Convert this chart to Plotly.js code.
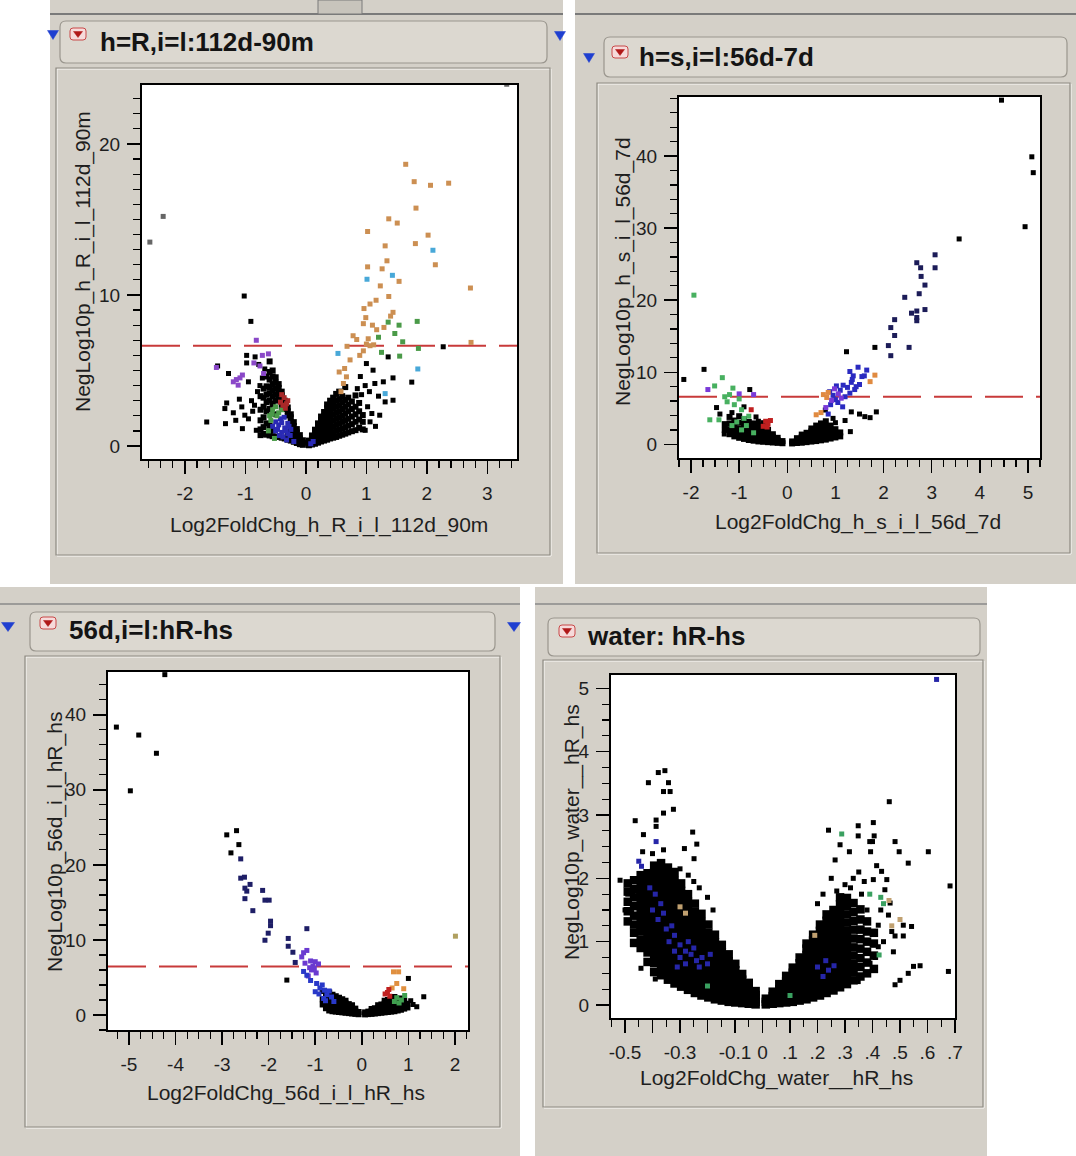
<!DOCTYPE html>
<html><head><meta charset="utf-8">
<script src="https://cdn.plot.ly/plotly-3.0.1.min.js"></script>
<style>html,body{margin:0;padding:0;background:#fff;}#chart{width:1076px;height:1156px;}</style>
</head><body><div id="chart"></div>
<script>
// ================= DATA =================
// ---- Panel 1 : h=R,i=l:112d-90m
const p1Title = 'h=R,i=l:112d-90m';
const p1XTitle = 'Log2FoldChg_h_R_i_l_112d_90m';
const p1YTitle = 'NegLog10p_h_R_i_l_112d_90m';
const p1XTickVals = [-2,-1,0,1,2,3];
const p1XTickText = ['-2','-1','0','1','2','3'];
const p1YTickVals = [0,10,20];
const p1YTickText = ['0','10','20'];
const p1Threshold = 6.64;
const p1Cloud = [
 [-0.05,[0.08,0.22,0.38]],[-0.1,[0.12,0.3,0.5,0.72]],[-0.15,[0.2,0.42,0.66,0.9,1.12]],
 [-0.2,[0.28,0.52,0.8,1.06,1.32,1.58]],[-0.25,[0.36,0.62,0.95,1.28,1.6,1.9,2.1]],
 [-0.3,[0.42,0.7,2.02,2.3,2.55]],[-0.35,[0.5,2.45,2.75,3.0]],[-0.4,[0.55,2.6,3.05,3.35,3.6]],
 [-0.45,[0.6,3.1,3.5,3.85,4.1]],[-0.5,[0.62,2.1,3.0,3.4,3.8,4.2,4.55]],
 [-0.55,[0.65,1.05,2.8,3.3,3.7,4.1,4.6,5.0]],[-0.6,[0.7,1.35,2.45,3.0,3.5,3.9,4.4,4.9,5.6]],
 [-0.65,[0.75,1.5,2.3,2.9,3.4,3.95,4.6]],[-0.7,[0.8,1.25,1.9,2.6,3.2,3.8]],[-0.75,[0.72,1.1,1.7,2.4,3.3]],
 [0.05,[0.05,0.2,0.36]],[0.1,[0.1,0.28,0.5,0.7]],[0.15,[0.15,0.36,0.6,0.85,1.08]],
 [0.2,[0.22,0.45,0.72,1.0,1.25,1.5]],[0.25,[0.3,0.55,0.85,1.15,1.45,1.72,1.95]],
 [0.3,[0.36,0.65,0.98,1.3,1.62,1.95,2.25]],[0.35,[0.42,0.75,1.1,1.45,1.8,2.15,2.5,2.75]],
 [0.4,[0.5,0.85,1.2,1.58,1.95,2.3,2.65,3.0]],[0.45,[0.55,0.92,1.3,1.7,2.1,2.5,2.85,3.2]],
 [0.5,[0.6,1.0,1.4,1.8,2.2,2.6,3.0,3.45]],[0.55,[0.68,1.08,1.5,1.9,2.3,2.7,3.1,3.6]],
 [0.6,[0.75,1.15,1.6,2.0,2.45,2.9,3.3]],[0.65,[0.82,1.25,1.7,2.15,2.6,3.05,3.9]],
 [0.7,[0.9,1.35,1.8,2.3,2.75,3.2]],[0.76,[0.98,1.45,1.95,2.45,2.95]],
 [0.82,[1.05,1.6,2.1,2.6,3.35]],[0.88,[1.2,1.75,2.3,2.85]],[0.94,[1.1,1.6,2.05]]
];
const p1Black = [[-1.02,9.93],[-0.91,8.25],[-0.82,1.04],[-0.88,2.3],[-0.95,4.25],[-1.01,2.04],[-1.05,1.15],[-1.06,2.59],[-1.16,1.7],[-1.31,2.85],[-1.34,2.48],[-1.33,1.48],[-1.64,1.59],[-1.28,4.8],[-1.46,5.3],[-0.98,6.0],[-0.98,5.5],[-0.84,5.9],[-0.78,5.4],[-0.9,3.0],[-0.85,2.7],[-0.95,1.8],[-0.8,3.6],[-1.2,2.2],[-1.1,3.1],[-0.72,4.5],[-0.68,5.1],[-0.76,4.0],
 [0.98,1.04],[1.09,2.15],[1.22,2.04],[1.31,2.92],[1.44,3.03],[1.14,4.14],[1.28,4.25],[1.44,4.51],[1.75,4.23],[1.11,5.02],[1.0,5.46],[1.36,5.9],[2.27,6.57],[1.06,1.6],[1.15,1.3],[1.02,2.6],[0.92,3.4],[1.05,3.6],[0.98,4.0],[1.2,3.3],[0.85,3.8],[0.9,4.6]];
const p1Gray = [[-2.58,13.5],[-2.36,15.2],[3.32,23.95]];
const p1Orange = [[1.65,18.65],[1.79,17.5],[2.06,17.26],[2.36,17.4],[1.82,15.75],[1.37,15.04],[1.51,14.76],[1.02,14.2],[2.02,13.96],[1.81,13.4],[1.31,13.25],[1.34,12.26],[2.14,12.0],[1.02,11.86],[1.26,11.73],[1.54,10.9],[1.23,10.6],[2.72,10.46],[1.37,9.9],[1.16,9.65],[1.06,9.4],[0.96,9.1],[1.44,8.85],[0.99,8.5],[1.29,7.85],[1.17,7.7],[0.95,8.1],[0.84,7.05],[1.03,7.1],[2.73,6.86],[1.06,6.64],[0.68,6.6],[0.73,5.7],[0.64,5.13],[0.67,4.58],[0.62,4.14],[0.89,6.0],[1.12,6.7],[1.0,6.75],[0.78,7.3],[1.4,8.6],[1.1,8.0],[0.95,6.3],[0.58,3.6],[0.55,4.9]];
const p1Cyan = [[2.10,12.96],[1.43,11.3],[1.01,11.04],[0.53,6.13],[1.31,3.47],[1.85,5.1]];
const p1Green = [[1.84,8.25],[1.36,8.2],[1.54,8.0],[1.47,7.45],[1.55,5.95],[1.86,6.46],[1.2,7.2],[1.25,6.2],[1.6,6.9],
 [-0.6,2.0],[-0.55,2.4],[-0.5,2.6],[-0.58,1.7],[-0.45,2.2],[-0.62,1.0],[-0.52,0.5],[-0.4,2.4],[-0.48,2.0],[-0.56,2.1]];
const p1Purple = [[-0.82,7.0],[-1.48,5.2],[-1.09,4.51],[-1.2,4.25],[-1.12,4.03],[-1.15,4.4],[-0.86,5.5],[-0.76,5.3],[-0.72,6.0],[-0.62,6.1],[-0.7,4.8],[-1.05,4.7]];
const p1Blue = [[-0.5,1.0],[-0.45,1.4],[-0.4,0.9],[-0.35,1.2],[-0.3,0.8],[-0.42,1.8],[-0.5,1.6],[-0.36,1.9],[-0.3,1.5],[-0.25,1.1],[-0.55,1.3],[-0.38,0.6],[-0.44,0.7],[-0.32,0.4],[-0.2,0.3],[-0.26,0.7],[-0.47,1.1],[-0.4,1.55],[-0.33,1.0],[-0.28,1.3],[0.08,0.15],[0.12,0.3]];
const p1Red = [[-0.42,2.9],[-0.36,3.2],[-0.32,2.8],[-0.4,3.4],[-0.3,3.0],[-0.34,2.5],[-0.38,2.7]];

// ---- Panel 2 : h=s,i=l:56d-7d
const p2Title = 'h=s,i=l:56d-7d';
const p2XTitle = 'Log2FoldChg_h_s_i_l_56d_7d';
const p2YTitle = 'NegLog10p_h_s_i_l_56d_7d';
const p2XTickVals = [-2,-1,0,1,2,3,4,5];
const p2XTickText = ['-2','-1','0','1','2','3','4','5'];
const p2YTickVals = [0,10,20,30,40];
const p2YTickText = ['0','10','20','30','40'];
const p2Threshold = 6.6;
const p2Cloud = [
 [-0.1,[0.15,0.45]],[-0.2,[0.2,0.55,0.9]],[-0.3,[0.25,0.65,1.05,1.4]],[-0.4,[0.3,0.75,1.2,1.65,2.0]],
 [-0.5,[0.35,0.8,1.3,1.8,2.3]],[-0.6,[0.4,0.9,1.45,2.0,2.6]],[-0.7,[0.5,1.0,1.6,2.2,2.9]],
 [-0.8,[0.6,1.15,1.75,2.4,3.1]],[-0.9,[0.75,1.3,1.95,2.7,3.5]],[-1.0,[0.9,1.5,2.2,3.0,3.9]],
 [-1.1,[1.1,1.8,2.5,3.3]],[-1.2,[1.4,2.1,2.9,3.8]],[-1.3,[2.0,2.8]],
 [0.1,[0.12,0.4]],[0.2,[0.18,0.5,0.85]],[0.3,[0.22,0.6,1.0,1.35]],[0.4,[0.3,0.7,1.15,1.6]],
 [0.5,[0.38,0.8,1.3,1.8,2.2]],[0.6,[0.45,0.9,1.45,2.0,2.6]],[0.7,[0.55,1.05,1.6,2.2,2.9]],
 [0.8,[0.65,1.2,1.8,2.45,3.2]],[0.9,[0.8,1.35,1.95,2.6]],[1.0,[0.95,1.5,2.1]],[1.1,[1.1,1.65]]
];
const p2Black = [[4.45,47.76],[5.08,39.9],[5.11,37.7],[4.94,30.2],[3.57,28.5],[-2.15,9.0],[-1.73,10.4],[-1.47,5.1],[-1.31,1.43],[-0.78,7.6],[1.31,1.76],[1.33,4.5],[1.5,4.2],[1.61,3.84],[1.72,3.7],[1.85,4.5],[0.79,4.76],[-0.9,5.2],[-0.65,3.8],[-0.5,3.0],[1.2,3.3],[1.0,3.0],[0.95,3.6],[-1.4,4.2],[-0.6,3.2],[-1.15,4.4],[1.23,12.85],[1.82,13.45]];
const p2Navy = [[3.07,26.3],[3.07,24.5],[2.69,25.2],[2.77,24.5],[2.78,23.3],[2.86,22.1],[2.74,20.9],[2.44,20.4],[2.86,18.7],[2.69,18.5],[2.58,18.2],[2.69,17.6],[2.69,17.15],[2.23,17.3],[2.15,16.2],[2.23,15.1],[2.1,13.7],[2.53,13.45],[2.15,12.3]];
const p2Blue = [[1.30,10.1],[1.47,10.7],[1.65,10.3],[1.37,9.5],[1.55,9.4],[1.16,8.2],[1.33,8.6],[1.43,8.0],[1.02,8.1],[0.88,7.3],[0.95,6.8],[1.1,7.5],[1.25,7.9],[1.5,8.3],[1.2,6.6],[1.05,5.8],[0.9,5.5],[1.0,6.2],[1.15,5.2],[0.85,4.2],[1.3,7.1],[1.4,7.6],[1.35,9.0],[1.6,9.5]];
const p2Purple = [[0.98,7.7],[1.06,7.0],[0.92,6.1],[1.12,6.4],[-1.65,7.6],[-1.0,7.0],[-0.7,6.9],[0.8,5.1]];
const p2Orange = [[1.82,9.6],[1.72,8.7],[0.85,7.2],[0.75,6.9],[0.7,4.4],[0.6,4.1],[0.82,6.5]];
const p2Green = [[-1.94,20.7],[-1.51,8.1],[-1.35,9.25],[-1.13,7.8],[-1.42,3.4],[-1.61,3.4],[-1.2,6.9],[-1.3,6.6],[-1.0,6.3],[-1.1,5.5],[-0.95,4.8],[-1.05,3.1],[-0.85,2.6],[-0.95,2.0],[-0.7,1.6],[-1.25,5.9],[-0.9,3.6],[-1.15,2.6],[-0.8,3.9]];
const p2Red = [[-0.45,3.2],[-0.4,2.8],[-0.35,3.3],[-0.5,2.5],[-0.75,4.8],[-0.42,2.4]];

// ---- Panel 3 : 56d,i=l:hR-hs
const p3Title = '56d,i=l:hR-hs';
const p3XTitle = 'Log2FoldChg_56d_i_l_hR_hs';
const p3YTitle = 'NegLog10p_56d_i_l_hR_hs';
const p3XTickVals = [-5,-4,-3,-2,-1,0,1,2];
const p3XTickText = ['-5','-4','-3','-2','-1','0','1','2'];
const p3YTickVals = [0,10,20,30,40];
const p3YTickText = ['0','10','20','30','40'];
const p3Threshold = 6.45;
const p3Cloud = [
 [-0.07,[0.1,0.4]],[-0.14,[0.15,0.5,0.85]],[-0.21,[0.2,0.6,1.0,1.3]],[-0.28,[0.25,0.65,1.05,1.45]],
 [-0.35,[0.3,0.7,1.1,1.55,1.9]],[-0.42,[0.35,0.75,1.2,1.65,2.1]],[-0.49,[0.4,0.8,1.3,1.8,2.3]],
 [-0.56,[0.45,0.9,1.4,1.9,2.5]],[-0.63,[0.5,1.0,1.5,2.05,2.7]],[-0.7,[0.6,1.1,1.7,2.3,3.0]],
 [-0.77,[0.9,1.5,2.2,2.9]],[-0.84,[1.4,2.1,3.2]],
 [0.07,[0.08,0.35]],[0.14,[0.12,0.45]],[0.21,[0.15,0.5,0.8]],[0.28,[0.2,0.55,0.9]],
 [0.35,[0.25,0.6,0.95,1.3]],[0.42,[0.3,0.65,1.05,1.4]],[0.49,[0.35,0.7,1.1,1.5,1.9]],
 [0.56,[0.4,0.8,1.2,1.6,2.0]],[0.63,[0.45,0.85,1.25,1.7,2.2]],[0.7,[0.5,0.95,1.4,1.85,2.4]],
 [0.77,[0.6,1.05,1.5,2.0]],[0.84,[0.7,1.2,1.7,2.2]],[0.91,[0.85,1.35,1.9]],[0.98,[1.0,1.5]]
];
const p3Black = [[-5.27,38.36],[-4.79,37.3],[-4.41,34.87],[-4.97,29.87],[-4.23,45.35],[-2.9,24.0],[-2.69,24.56],[-2.64,22.7],[-2.81,21.6],[-1.61,4.65],[1.33,2.43],[1.18,1.1],[1.0,4.87],[1.05,1.9],[1.1,1.4]];
const p3Navy = [[-2.60,20.8],[-2.60,18.23],[-2.52,18.36],[-2.51,16.9],[-2.47,16.5],[-2.40,17.4],[-2.51,15.5],[-2.34,13.9],[-2.13,16.6],[-2.08,15.3],[-1.99,15.3],[-1.96,12.5],[-1.96,11.9],[-2.01,10.9],[-2.08,9.96],[-1.58,10.2],[-1.58,9.16],[-1.48,8.36],[-1.43,7.0],[-1.18,11.5]];
const p3Purple = [[-1.29,7.74],[-1.25,8.3],[-1.18,8.6],[-1.10,7.2],[-1.08,6.0],[-1.0,7.1],[-1.05,6.5],[-1.12,6.3],[-0.98,5.6],[-1.15,5.2],[-1.22,6.9],[-0.93,6.8],[-1.02,6.2]];
const p3Blue = [[-1.18,5.3],[-0.97,4.2],[-1.0,3.1],[-0.9,3.6],[-0.85,4.0],[-0.8,3.3],[-0.92,2.8],[-0.75,2.7],[-0.7,3.2],[-0.82,2.2],[-0.65,2.4],[-0.6,1.8],[-0.78,1.9],[-1.1,4.6],[-1.25,5.8]];
const p3Orange = [[0.68,5.75],[0.79,5.75],[0.9,3.5],[0.75,4.2],[0.65,3.6]];
const p3Red = [[0.55,3.0],[0.6,2.5],[0.5,2.8],[0.58,3.4]];
const p3Green = [[0.75,2.3],[0.85,2.0],[0.8,1.6],[0.7,1.8],[0.92,2.6]];
const p3Tan = [[2.01,10.5]];

// ---- Panel 4 : water: hR-hs
const p4Title = 'water: hR-hs';
const p4XTitle = 'Log2FoldChg_water__hR_hs';
const p4YTitle = 'NegLog10p_water__hR_hs';
const p4XTickVals = [-0.5,-0.4,-0.3,-0.2,-0.1,0,0.1,0.2,0.3,0.4,0.5,0.6,0.7];
const p4XTickText = ['-0.5','','-0.3','','-0.1','0','.1','.2','.3','.4','.5','.6','.7'];
const p4YTickVals = [0,1,2,3,4,5];
const p4YTickText = ['0','1','2','3','4','5'];
const p4Cloud = [
 [-0.49,[1.32,1.48,1.63,1.79,1.92]],
 [-0.467,[0.98,1.14,1.27,1.41,1.56,1.7,1.83,1.97]],
 [-0.443,[0.9,1.03,1.16,1.26,1.38,1.49,1.6,1.72,1.81,1.93,2.05]],
 [-0.418,[0.68,0.83,0.94,1.06,1.17,1.27,1.39,1.5,1.62,1.73,1.84,1.96,2.08]],
 [-0.394,[0.52,0.66,0.79,0.9,1.01,1.12,1.22,1.34,1.45,1.55,1.66,1.77,1.88,1.99,2.1,2.2]],
 [-0.369,[0.47,0.6,0.71,0.83,0.93,1.04,1.14,1.25,1.35,1.46,1.57,1.67,1.78,1.9,2.01,2.13,2.24]],
 [-0.344,[0.4,0.52,0.63,0.74,0.84,0.95,1.05,1.16,1.27,1.37,1.48,1.59,1.7,1.82,1.94,2.06,2.17]],
 [-0.32,[0.34,0.45,0.56,0.66,0.77,0.87,0.98,1.08,1.19,1.3,1.4,1.51,1.62,1.73,1.85,1.97,2.1]],
 [-0.296,[0.29,0.39,0.5,0.61,0.71,0.82,0.92,1.03,1.13,1.24,1.35,1.45,1.56,1.68,1.8,1.92]],
 [-0.271,[0.24,0.34,0.45,0.55,0.66,0.76,0.87,0.97,1.08,1.18,1.29,1.4,1.51,1.63,1.75]],
 [-0.246,[0.19,0.29,0.4,0.5,0.61,0.71,0.81,0.92,1.02,1.13,1.24,1.35,1.47,1.6]],
 [-0.222,[0.15,0.25,0.35,0.45,0.56,0.66,0.76,0.87,0.97,1.08,1.19,1.31,1.44]],
 [-0.197,[0.12,0.21,0.31,0.41,0.51,0.61,0.71,0.82,0.92,1.03,1.14,1.27]],
 [-0.173,[0.09,0.18,0.28,0.37,0.47,0.57,0.67,0.77,0.88,0.99,1.11]],
 [-0.148,[0.07,0.16,0.25,0.34,0.44,0.53,0.63,0.73,0.84,0.95]],
 [-0.123,[0.05,0.13,0.22,0.31,0.4,0.49,0.59,0.69,0.8]],
 [-0.099,[0.04,0.11,0.19,0.28,0.37,0.46,0.55,0.65]],
 [-0.074,[0.03,0.09,0.16,0.24,0.32,0.4,0.49]],
 [-0.05,[0.02,0.07,0.13,0.2,0.27,0.35]],
 [-0.025,[0.01,0.05,0.1,0.16,0.22]],
 [0.012,[0.01,0.05,0.1]],
 [0.037,[0.02,0.08,0.14,0.21]],
 [0.061,[0.03,0.1,0.17,0.25,0.33]],
 [0.086,[0.04,0.12,0.2,0.29,0.38,0.46]],
 [0.11,[0.05,0.14,0.23,0.32,0.42,0.51,0.59]],
 [0.135,[0.07,0.16,0.26,0.36,0.46,0.56,0.66,0.75]],
 [0.16,[0.09,0.19,0.29,0.39,0.49,0.59,0.69,0.79,0.89,0.97]],
 [0.184,[0.12,0.22,0.32,0.42,0.52,0.62,0.72,0.82,0.92,1.02,1.11]],
 [0.209,[0.15,0.25,0.35,0.45,0.55,0.65,0.75,0.85,0.96,1.06,1.17,1.27]],
 [0.233,[0.19,0.29,0.39,0.49,0.59,0.7,0.8,0.9,1.0,1.11,1.22,1.33,1.43]],
 [0.258,[0.23,0.33,0.44,0.54,0.64,0.74,0.85,0.95,1.05,1.16,1.27,1.38,1.5]],
 [0.282,[0.28,0.39,0.49,0.6,0.7,0.81,0.91,1.02,1.13,1.24,1.35,1.47,1.59,1.7]],
 [0.307,[0.33,0.45,0.57,0.69,0.81,0.93,1.05,1.17,1.3,1.43,1.56,1.69]],
 [0.331,[0.39,0.52,0.65,0.78,0.91,1.05,1.19,1.33,1.47,1.61]],
 [0.356,[0.45,0.6,0.74,0.89,1.04,1.19,1.35,1.51]],
 [0.38,[0.5,0.67,0.84,1.0,1.16,1.32]],
 [0.405,[0.57,0.78,0.97,1.14]]
];
const p4Black = [[-0.518,1.97],[-0.355,3.70],[-0.379,3.67],[-0.415,3.51],[-0.342,3.51],[-0.36,3.37],[-0.336,3.37],[-0.324,3.09],[-0.36,3.03],[-0.387,2.92],[-0.387,2.82],[-0.463,2.91],[-0.254,2.73],[-0.239,2.54],[-0.284,2.47],[-0.249,2.31],[-0.4,2.39],[-0.433,2.69],[-0.436,2.42],[-0.473,1.76],[-0.476,1.46],[-0.442,0.58],[-0.39,0.41],[-0.424,1.04],
 [-0.3,2.15],[-0.27,2.05],[-0.25,1.95],[-0.23,1.85],[-0.2,1.7],[-0.18,1.5],[-0.5,1.5],[-0.49,1.75],[-0.36,2.45],
 [0.682,1.88],[0.676,0.53],[0.461,3.21],[0.603,2.42],[0.53,2.24],[0.482,2.58],[0.497,2.42],[0.542,1.24],[0.549,0.61],[0.573,0.62],[0.53,0.5],[0.5,0.39],[0.482,0.32],[0.512,1.09],[0.482,1.09],[0.403,2.88],[0.406,2.67],[0.39,2.58],[0.4,2.58],[0.393,2.42],[0.348,2.83],[0.348,2.67],[0.24,2.76],[0.316,2.42],[0.282,2.53],[0.264,2.29],[0.433,2.11],[0.415,2.2],[0.403,1.98],[0.452,1.98],[0.445,1.82],[0.464,1.61],[0.458,1.42],[0.421,1.26],[0.47,1.16],[0.512,1.26],[0.476,0.84],[0.421,0.92],[0.391,0.66],[0.348,0.37],
 [0.37,1.95],[0.35,2.1],[0.33,2.0],[0.3,1.9],[0.32,1.85],[0.2,1.6],[0.22,1.75],[0.25,2.0],[0.27,1.8],[0.43,1.5],[0.44,1.0],[0.41,0.75],[0.38,1.5],[0.36,1.75]];
const p4Blue = [[-0.34,1.0],[-0.32,1.1],[-0.3,0.95],[-0.28,0.85],[-0.26,0.8],[-0.24,0.7],[-0.22,0.75],[-0.3,0.75],[-0.32,0.85],[-0.27,1.0],[-0.25,0.9],[-0.2,0.65],[-0.23,0.6],[-0.35,1.2],[-0.33,1.25],[-0.38,1.35],[-0.4,1.5],[-0.37,1.6],[-0.39,1.75],[-0.41,1.85],[-0.36,1.45],[-0.31,0.6],[-0.28,0.65],[-0.19,0.8],[-0.45,2.27],[-0.44,2.19],[-0.387,2.58],[0.2,0.6],[0.22,0.45],[0.24,0.55],[0.26,0.62],[0.23,0.7],[0.633,5.14]];
const p4Green = [[0.288,2.7],[0.424,0.79],[0.39,1.75],[0.43,1.7],[0.44,1.6],[-0.2,0.3],[0.1,0.15]];
const p4Tan = [[0.46,1.65],[0.5,1.35],[0.47,1.25],[-0.3,1.55],[-0.28,1.45],[0.19,1.1]];

// ================= LAYOUT HELPERS =================
const W = 1076, H = 1156;
const FONT = '"Liberation Sans", Arial, Helvetica, sans-serif';
const X = v => v / W;
const Y = v => 1 - v / H;
const fromPairs = l => ({x: l.map(p => p[0]), y: l.map(p => p[1])});
const fromCols = c => { const x = [], y = []; c.forEach(col => col[1].forEach(v => { x.push(col[0]); y.push(v); })); return {x, y}; };

const panels = [
 {n:'', box:[142,85,517,459], xr:[-2.71,3.49], yr:[-0.86,23.9], xm:0.2, ym:1, xtv:p1XTickVals, xtt:p1XTickText, ytv:p1YTickVals, ytt:p1YTickText, thr:p1Threshold,
  title:p1Title, tpos:[98,42], xt:p1XTitle, xtpos:[329,525], yt:p1YTitle, ytpos:[83,262]},
 {n:'2', box:[679,97,1040,458], xr:[-2.25,5.25], yr:[-1.9,48.2], xm:0.25, ym:2, xtv:p2XTickVals, xtt:p2XTickText, ytv:p2YTickVals, ytt:p2YTickText, thr:p2Threshold,
  title:p2Title, tpos:[637,57], xt:p2XTitle, xtpos:[858,522], yt:p2YTitle, ytpos:[623,272]},
 {n:'3', box:[108,672,468,1030], xr:[-5.45,2.28], yr:[-2.0,45.7], xm:0.25, ym:2, xtv:p3XTickVals, xtt:p3XTickText, ytv:p3YTickVals, ytt:p3YTickText, thr:p3Threshold,
  title:p3Title, tpos:[67,630], xt:p3XTitle, xtpos:[286,1093], yt:p3YTitle, ytpos:[55,842]},
 {n:'4', box:[611,675,955,1018], xr:[-0.551,0.70], yr:[-0.205,5.21], xm:0.05, ym:0.25, xtv:p4XTickVals, xtt:p4XTickText, ytv:p4YTickVals, ytt:p4YTickText, thr:null,
  title:p4Title, tpos:[585,636], xt:p4XTitle, xtpos:[776,1078], yt:p4YTitle, ytpos:[572,832]}
];

function mk(d, n, color, size) {
  return {type:'scatter', mode:'markers', x:d.x, y:d.y, xaxis:'x'+n, yaxis:'y'+n,
    marker:{symbol:'square', size:size, color:color, line:{width:0}}, hoverinfo:'skip', showlegend:false};
}

const traces = [
  mk(fromCols(p1Cloud),'', '#000', 6), mk(fromPairs(p1Black),'', '#000', 5), mk(fromPairs(p1Gray),'', '#666', 5),
  mk(fromPairs(p1Blue),'', '#2a2ab4', 5), mk(fromPairs(p1Green),'', '#4a9a48', 5), mk(fromPairs(p1Red),'', '#a82828', 5),
  mk(fromPairs(p1Purple),'', '#8a48c8', 5), mk(fromPairs(p1Orange),'', '#cc8f52', 5), mk(fromPairs(p1Cyan),'', '#48a8d8', 5),
  mk(fromCols(p2Cloud),'2', '#000', 6), mk(fromPairs(p2Black),'2', '#000', 5), mk(fromPairs(p2Navy),'2', '#1c1c58', 5),
  mk(fromPairs(p2Blue),'2', '#2a2ac0', 5), mk(fromPairs(p2Purple),'2', '#7a3ad8', 5), mk(fromPairs(p2Orange),'2', '#e08a40', 5),
  mk(fromPairs(p2Green),'2', '#48b060', 5), mk(fromPairs(p2Red),'2', '#c02020', 5),
  mk(fromCols(p3Cloud),'3', '#000', 6), mk(fromPairs(p3Black),'3', '#000', 5), mk(fromPairs(p3Navy),'3', '#1e1e66', 5),
  mk(fromPairs(p3Purple),'3', '#6a3ad0', 5), mk(fromPairs(p3Blue),'3', '#2838c8', 5), mk(fromPairs(p3Orange),'3', '#e09040', 5),
  mk(fromPairs(p3Red),'3', '#c02020', 5), mk(fromPairs(p3Green),'3', '#40a050', 5), mk(fromPairs(p3Tan),'3', '#b0a060', 5),
  mk(fromCols(p4Cloud),'4', '#000', 8.5), mk(fromPairs(p4Black),'4', '#000', 5), mk(fromPairs(p4Blue),'4', '#2626a8', 5),
  mk(fromPairs(p4Green),'4', '#3aa060', 5), mk(fromPairs(p4Tan),'4', '#c0a070', 5)
];

const GRAY = '#d4d0c8';
const shapes = [];
const rect = (x0,y0,x1,y1,fill,line,lw) => shapes.push({type:'rect', xref:'paper', yref:'paper', x0:X(x0), x1:X(x1), y0:Y(y1), y1:Y(y0),
  fillcolor:fill, line:{color:line||'rgba(0,0,0,0)', width:lw||0}, layer:'below'});
const path = (d,fill,line,lw) => shapes.push({type:'path', xref:'paper', yref:'paper', path:d, fillcolor:fill, line:{color:line||'rgba(0,0,0,0)', width:lw||0}, layer:'below'});
const hline = (x0,x1,y,color,w) => shapes.push({type:'line', xref:'paper', yref:'paper', x0:X(x0), x1:X(x1), y0:Y(y), y1:Y(y), line:{color, width:w}, layer:'below'});
function rrect(x0,y0,x1,y1,r,fill,line,lw){
  const d = `M${X(x0+r)},${Y(y0)} L${X(x1-r)},${Y(y0)} Q${X(x1)},${Y(y0)} ${X(x1)},${Y(y0+r)} L${X(x1)},${Y(y1-r)} Q${X(x1)},${Y(y1)} ${X(x1-r)},${Y(y1)} L${X(x0+r)},${Y(y1)} Q${X(x0)},${Y(y1)} ${X(x0)},${Y(y1-r)} L${X(x0)},${Y(y0+r)} Q${X(x0)},${Y(y0)} ${X(x0+r)},${Y(y0)} Z`;
  path(d,fill,line,lw);
}
function tri(cx,cy,w,h,color){
  path(`M${X(cx-w/2)},${Y(cy-h/2)} L${X(cx+w/2)},${Y(cy-h/2)} L${X(cx)},${Y(cy+h/2)} Z`, color, color, 0.5);
}
function redIcon(cx,cy){
  rrect(cx-8,cy-6,cx+8,cy+6,3,'#f6dada','#c84848',1);
  tri(cx,cy+0.5,9,6,'#b01818');
}
function frame(x0,y0,x1,y1){
  rect(x0+1,y0+1,x1+1,y1+1,'rgba(0,0,0,0)','#fbfaf7',1);
  rect(x0,y0,x1,y1,'rgba(0,0,0,0)','#8e8a82',1.2);
}

// gray window backgrounds
rect(50,0,563,584,GRAY); rect(575,0,1076,584,GRAY);
rect(0,587,520,1156,GRAY); rect(535,587,987,1156,GRAY);
hline(50,563,14,'#7a7a7a',2); hline(575,1076,14,'#7a7a7a',2);
hline(0,520,604,'#8a8a8a',1.5); hline(535,987,604,'#8a8a8a',1.5);
rect(318,0,362,14,'#c8c4bc','#7a7a7a',1);
// inner frames
frame(56,68,550,555); frame(597,83,1070,553);
frame(25,656,500,1127); frame(543,660,983,1107);
// title bars
rrect(60,21,547,63,6,'#dcd8d0','#9a968e',1.2);
rrect(604,37,1067,77,6,'#dcd8d0','#9a968e',1.2);
rrect(30,612,495,651,6,'#dcd8d0','#9a968e',1.2);
rrect(548,618,980,656,6,'#dcd8d0','#9a968e',1.2);
redIcon(78,34); redIcon(620,52); redIcon(48,623); redIcon(567,631);
tri(53,35,11,9,'#1f3fd0'); tri(560,36,11,9,'#1f3fd0'); tri(589,58,11,9,'#1f3fd0');
tri(8,627,13,9,'#1f3fd0'); tri(514,627,13,9,'#1f3fd0');
// white plot areas
panels.forEach(p => rect(p.box[0],p.box[1],p.box[2],p.box[3],'#ffffff'));
// threshold lines
panels.forEach(p => { if (p.thr !== null) shapes.push({type:'line', xref:'x'+p.n+' domain', yref:'y'+p.n, x0:0, x1:1, y0:p.thr, y1:p.thr,
  line:{color:'#c83a3a', width:2, dash:'38px,13px'}, layer:'below'}); });

const layout = {width:W, height:H, margin:{l:0,r:0,t:0,b:0}, paper_bgcolor:'#ffffff', plot_bgcolor:'rgba(0,0,0,0)',
  showlegend:false, shapes:shapes, annotations:[], hovermode:false};

const tickFont = {family:FONT, size:19, color:'#1e1e1e'};
function axisCommon(tv, tt, minorD){
  return {tickmode:'array', tickvals:tv, ticktext:tt, showline:true, linecolor:'#000', linewidth:2, mirror:true,
    ticks:'outside', ticklen:13, tickwidth:1.5, tickcolor:'#000', showgrid:false, zeroline:false, tickfont:tickFont,
    fixedrange:true, ticklabelstandoff:3,
    minor:{tickmode:'linear', tick0:0, dtick:minorD, ticks:'outside', ticklen:7, tickwidth:1.2, tickcolor:'#000', showgrid:false}};
}
panels.forEach(p => {
  const xa = Object.assign(axisCommon(p.xtv,p.xtt,p.xm), {domain:[X(p.box[0]),X(p.box[2])], range:p.xr, anchor:'y'+p.n});
  const ya = Object.assign(axisCommon(p.ytv,p.ytt,p.ym), {domain:[Y(p.box[3]),Y(p.box[1])], range:p.yr, anchor:'x'+p.n});
  layout['xaxis'+p.n] = xa; layout['yaxis'+p.n] = ya;
  layout.annotations.push({xref:'paper', yref:'paper', x:X(p.tpos[0]), y:Y(p.tpos[1]), xanchor:'left', yanchor:'middle',
    text:'<b>'+p.title+'</b>', showarrow:false, font:{family:FONT, size:26, color:'#141414'}});
  layout.annotations.push({xref:'paper', yref:'paper', x:X(p.xtpos[0]), y:Y(p.xtpos[1]), xanchor:'center', yanchor:'middle',
    text:p.xt, showarrow:false, font:{family:FONT, size:21, color:'#1e1e1e'}});
  layout.annotations.push({xref:'paper', yref:'paper', x:X(p.ytpos[0]), y:Y(p.ytpos[1]), xanchor:'center', yanchor:'middle',
    text:p.yt, textangle:-90, showarrow:false, font:{family:FONT, size:21, color:'#1e1e1e'}});
});

Plotly.newPlot('chart', traces, layout, {staticPlot:true, displayModeBar:false});
</script></body></html>
